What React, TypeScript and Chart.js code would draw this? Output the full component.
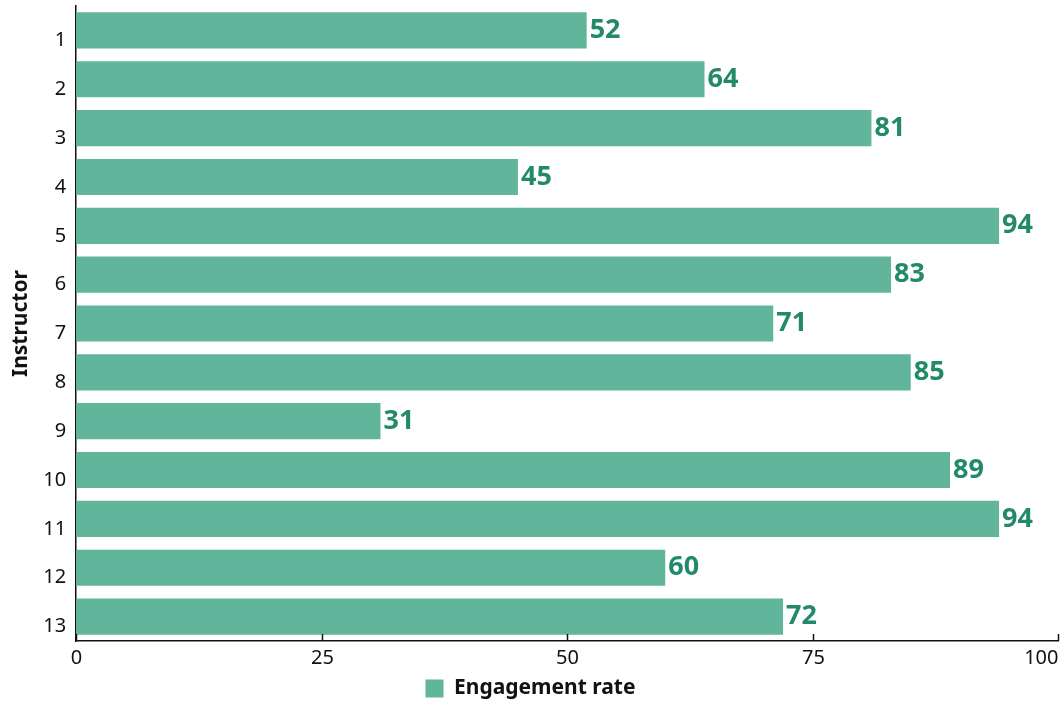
import React, { useEffect, useRef } from "react";
import { Chart, registerables } from "chart.js";

Chart.register(...registerables);

const categories = ["1", "2", "3", "4", "5", "6", "7", "8", "9", "10", "11", "12", "13"];
const engagement = [52, 64, 81, 45, 94, 83, 71, 85, 31, 89, 94, 60, 72];
const seriesName = "Engagement rate";
const xTicks = [0, 25, 50, 75, 100];

const FONT = "'Noto Sans', 'Open Sans', sans-serif";
const BAR = "#61b59b";
const LABEL = "#22896b";

const valueLabels = {
  id: "valueLabels",
  afterDatasetsDraw(chart: any) {
    const ctx = chart.ctx;
    const meta = chart.getDatasetMeta(0);
    ctx.save();
    ctx.font = `bold 27px ${FONT}`;
    ctx.fillStyle = LABEL;
    ctx.textAlign = "left";
    ctx.textBaseline = "middle";
    meta.data.forEach((bar: any, i: number) => {
      ctx.fillText(String(engagement[i]), bar.x + 3, bar.y);
    });
    ctx.restore();
  },
};

const xAxisDecor = {
  id: "xAxisDecor",
  afterDraw(chart: any) {
    const ctx = chart.ctx;
    const xs = chart.scales.x;
    const bottom = chart.chartArea.bottom;
    ctx.save();
    ctx.strokeStyle = "#111";
    ctx.lineWidth = 1.5;
    ctx.fillStyle = "#111";
    ctx.font = `20px ${FONT}`;
    ctx.textBaseline = "middle";
    xs.ticks.forEach((t: any) => {
      const px = Math.round(xs.getPixelForValue(t.value)) + 0.5;
      ctx.beginPath();
      ctx.moveTo(px, bottom);
      ctx.lineTo(px, bottom - 7);
      ctx.stroke();
      const text = String(t.value);
      const w = ctx.measureText(text).width;
      let left = px - w / 2;
      if (left + w > chart.width - 4) left = px - w;
      ctx.textAlign = "left";
      ctx.fillText(text, left, bottom + 17);
    });
    ctx.restore();
  },
};

export default function App() {
  const ref = useRef<HTMLCanvasElement | null>(null);
  useEffect(() => {
    if (!ref.current) return;
    const chart = new Chart(ref.current, {
      type: "bar",
      data: {
        labels: categories,
        datasets: [
          {
            label: seriesName,
            data: engagement,
            backgroundColor: BAR,
            borderWidth: 0,
            categoryPercentage: 1,
            barPercentage: 0.74,
          },
        ],
      },
      options: {
        indexAxis: "y",
        animation: false,
        responsive: true,
        maintainAspectRatio: false,
        layout: { padding: { top: 6, right: 5, left: 3, bottom: 0 } },
        plugins: {
          legend: {
            position: "bottom",
            labels: {
              boxWidth: 18,
              boxHeight: 18,
              padding: 3,
              color: "#111",
              font: { family: FONT, size: 21, weight: "bold" },
            },
          },
          tooltip: { enabled: false },
        },
        scales: {
          x: {
            min: 0,
            max: 100,
            afterBuildTicks(scale: any) {
              scale.ticks = xTicks.map((v) => ({ value: v }));
            },
            afterFit(scale: any) {
              scale.paddingLeft = 0;
              scale.paddingRight = 0;
            },
            grid: { display: false, drawTicks: false, tickLength: 0 },
            border: { display: true, color: "#111", width: 1.5 },
            ticks: {
              color: "rgba(0,0,0,0)",
              padding: 5,
              font: { family: FONT, size: 20 },
            },
          },
          y: {
            afterFit(scale: any) {
              scale.paddingTop = 0;
              scale.paddingBottom = 0;
            },
            grid: { display: false, drawTicks: false, tickLength: 0 },
            border: { display: true, color: "#111", width: 1.5 },
            ticks: {
              color: "#111",
              padding: 10,
              labelOffset: 10,
              font: { family: FONT, size: 20 },
            },
            title: {
              display: true,
              text: "Instructor",
              color: "#111",
              padding: { top: 5, bottom: 0 },
              font: { family: FONT, size: 21, weight: "bold" },
            },
          },
        },
      },
      plugins: [valueLabels, xAxisDecor],
    } as any);
    return () => chart.destroy();
  }, []);
  return (
    <div style={{ position: "fixed", left: 0, top: 0, width: 1063, height: 709, background: "#fff" }}>
      <canvas ref={ref} />
    </div>
  );
}
